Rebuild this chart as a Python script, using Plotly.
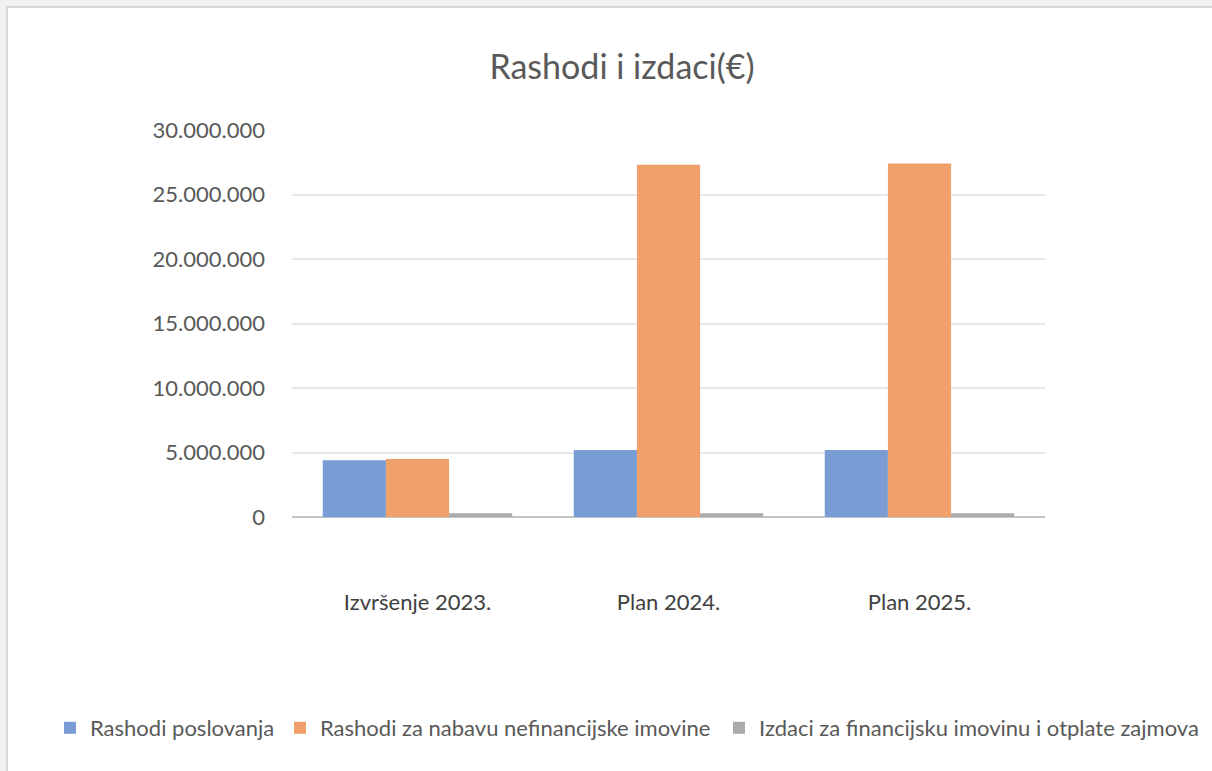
import plotly.graph_objects as go

categories = ["Izvršenje 2023.", "Plan 2024.", "Plan 2025."]
series_names = [
    "Rashodi poslovanja",
    "Rashodi za nabavu nefinancijske imovine",
    "Izdaci za financijsku imovinu i otplate zajmova",
]
rashodi_poslovanja = [4400000, 5200000, 5200000]
rashodi_nefinancijske = [4500000, 27300000, 27400000]
izdaci_financijske = [300000, 300000, 300000]
tick_values = [0, 5000000, 10000000, 15000000, 20000000, 25000000, 30000000]
tick_labels = ["0", "5.000.000", "10.000.000", "15.000.000", "20.000.000", "25.000.000", "30.000.000"]

colors = ["#7A9CD5", "#F0A06A", "#ABABAB"]
values = [rashodi_poslovanja, rashodi_nefinancijske, izdaci_financijske]

font_family = "Lato, Open Sans, sans-serif"
W, H = 1212, 771
ML, MR, MT, MB = 292, 167, 130, 254
pw, ph = W - ML - MR, H - MT - MB

legend_ids = ["legend", "legend2", "legend3"]
legend_left_px = [50, 280, 719]

fig = go.Figure()
for name, vals, col, lid in zip(series_names, values, colors, legend_ids):
    fig.add_trace(go.Bar(
        x=categories, y=vals, name=name, legend=lid,
        marker=dict(color=col, line=dict(width=0)),
    ))


def px_x(x):
    return (x - ML) / pw


def px_y(y):
    return (H - MB - y) / ph


legend_style = dict(orientation="h", xref="container", yref="container", xanchor="left",
                    y=1 - 728 / H, yanchor="middle", itemwidth=30,
                    font=dict(size=22, color="#595959"), bgcolor="rgba(0,0,0,0)")

fig.update_layout(
    width=W, height=H,
    paper_bgcolor="#F0F0F0", plot_bgcolor="white",
    barmode="group", bargap=0.245, bargroupgap=0.0,
    margin=dict(l=ML, r=MR, t=MT, b=MB, autoexpand=False),
    title=dict(text="Rashodi i izdaci(€)", x=622 / W, xanchor="center", y=1 - 67 / H, yanchor="middle",
               font=dict(family=font_family, size=34, color="#595959")),
    font=dict(family=font_family, color="#595959"),
    showlegend=True,
    legend=dict(legend_style, x=legend_left_px[0] / W),
    legend2=dict(legend_style, x=legend_left_px[1] / W),
    legend3=dict(legend_style, x=legend_left_px[2] / W),
    xaxis=dict(showgrid=False, showline=False, ticks="", tickfont=dict(size=22, color="#404040"),
               ticklabelstandoff=70),
    yaxis=dict(range=[0, 30000000], tickvals=tick_values, ticktext=tick_labels,
               showgrid=True, gridcolor="#E8E8E8", gridwidth=1.5,
               zeroline=True, zerolinecolor="#C4C4C4", zerolinewidth=2,
               tickfont=dict(size=22, color="#595959"), ticklabelstandoff=26),
    shapes=[dict(type="rect", xref="paper", yref="paper", x0=px_x(7), x1=px_x(W + 20), y0=px_y(H + 20), y1=px_y(7),
                 line=dict(color="#D6D6D6", width=2), fillcolor="white", layer="below")],
)

fig.write_html("out.html", config={"displayModeBar": False},
               post_script="document.body.style.margin='0px';document.body.style.overflow='hidden';")
